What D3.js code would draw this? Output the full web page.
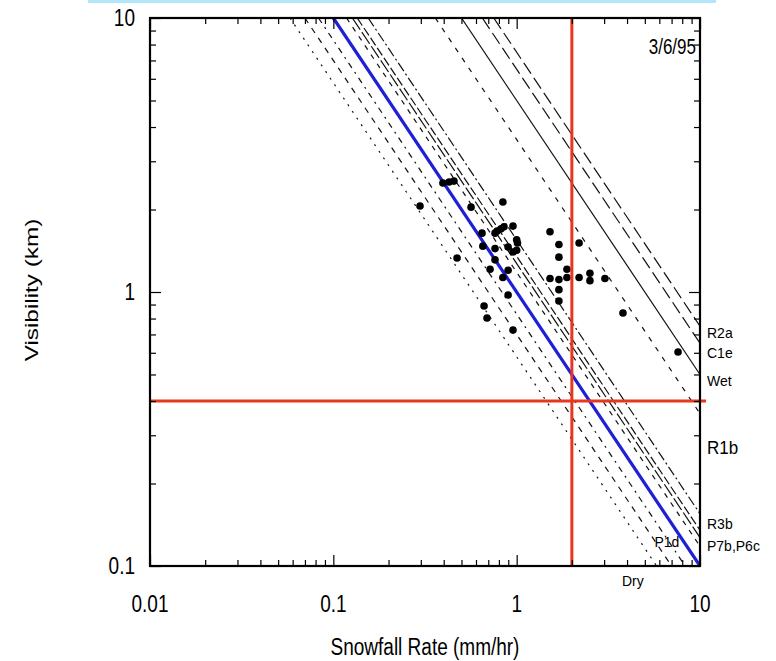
<!DOCTYPE html>
<html><head><meta charset="utf-8">
<script src="https://cdn.jsdelivr.net/npm/d3@7"></script>
<style>
body{margin:0;background:#fff}
svg{display:block}
text{font-family:"Liberation Sans",Arial,Helvetica,sans-serif;fill:#000}
</style>
</head><body>
<svg id="chart" width="776" height="661"></svg>
<script>
// ---- data ----
const snowfallRate = [0.396,0.428,0.455,0.297,0.564,0.841,0.762,0.782,0.822,0.853,0.955,0.647,0.654,0.762,0.898,1.00,1.01,1.00,0.955,0.473,0.762,0.716,0.898,0.841,0.898,0.664,0.689,0.955,1.52,1.70,1.70,2.19,1.88,1.52,1.70,1.88,2.19,2.51,2.51,3.03,1.70,1.70,3.80,7.59];
const visibility   = [2.50,2.52,2.54,2.06,2.04,2.13,1.64,1.67,1.70,1.73,1.74,1.64,1.47,1.44,1.46,1.55,1.51,1.42,1.40,1.33,1.31,1.21,1.20,1.13,0.975,0.889,0.804,0.726,1.66,1.49,1.34,1.51,1.21,1.12,1.11,1.13,1.13,1.17,1.10,1.12,1.02,0.927,0.838,0.604];
// relations Visibility = coef / SnowfallRate
const relationNames = ["R2a","C1e","Wet","R1b","R3b","P7b","P6c","Pb","Fit","P1d","Pd","Dry"];
const relationCoef  = [7.5, 6.5, 5.0, 3.6, 1.55, 1.35, 1.27, 1.18, 1.0, 0.83, 0.70, 0.58];
const relationLabels = ["R2a","C1e","Wet","R1b","R3b","P7b,P6c"];
const relationLabelVis = [0.71,0.60,0.473,0.27,0.142,0.118];
const xTickLabels = [0.01, 0.1, 1, 10];
const yTickLabels = [0.1, 1, 10];
const thresholdRate = 2.0;
const thresholdVis = 0.4;
const dateLabel = "3/6/95";

// ---- styles ----
const dashStyles = {
  "R2a":"13,5","C1e":"13,5","Wet":null,"R1b":"5,7",
  "R3b":"10,3,2,3","P7b":"9,3","P6c":"14,3","Pb":"5,6",
  "P1d":"6,5,2,5","Pd":"6,6","Dry":"2,6"
};

const svg = d3.select("#chart");
const L = 150, R = 700, T = 18, B = 566;
const x = d3.scaleLog().domain([0.01, 10]).range([L, R]);
const y = d3.scaleLog().domain([0.1, 10]).range([B, T]);

// decorative band at top (from the source scan)
svg.append("rect").attr("x",88).attr("y",0).attr("width",628).attr("height",3).attr("fill","#b2e6f8");

svg.append("clipPath").attr("id","plot").append("rect")
  .attr("x",L).attr("y",T).attr("width",R-L).attr("height",B-T);

const g = svg.append("g").attr("clip-path","url(#plot)");
const line = d3.line().x(d => x(d[0])).y(d => y(d[1]));

relationNames.forEach((name, i) => {
  const k = relationCoef[i];
  const s0 = Math.max(0.01, k / 10), s1 = Math.min(10, k / 0.1);
  const pts = [[s0, k / s0], [s1, k / s1]];
  const isFit = name === "Fit";
  g.append("path").attr("d", line(pts))
    .attr("fill","none")
    .attr("stroke", isFit ? "#1f1fd6" : "#111")
    .attr("stroke-width", isFit ? 3.2 : 1.2)
    .attr("stroke-dasharray", isFit ? null : dashStyles[name]);
});

// points
g.selectAll("circle.pt").data(snowfallRate).join("circle")
  .attr("class","pt")
  .attr("cx", d => x(d))
  .attr("cy", (d,i) => y(visibility[i]))
  .attr("r", 3.8).attr("fill","#000");

// threshold lines
svg.append("line").attr("x1",x(0.01)).attr("x2",x(10)+6)
  .attr("y1",y(thresholdVis)).attr("y2",y(thresholdVis))
  .attr("stroke","#e8361f").attr("stroke-width",3);
svg.append("line").attr("x1",x(thresholdRate)).attr("x2",x(thresholdRate))
  .attr("y1",y(10)).attr("y2",y(0.1))
  .attr("stroke","#e8361f").attr("stroke-width",3);

// ticks (inward on all sides)
const xMinor = [], yMinor = [];
[0.01,0.1,1].forEach(d => { for (let m=2;m<=9;m++) xMinor.push(d*m); });
[0.1,1].forEach(d => { for (let m=2;m<=9;m++) yMinor.push(d*m); });
function ticks(axisGen, vals, size, tr) {
  svg.append("g").attr("transform", tr)
    .call(axisGen.tickValues(vals).tickSize(size).tickFormat(""))
    .call(s => s.select(".domain").remove())
    .selectAll("line").attr("stroke","#000").attr("stroke-width",1.2);
}
ticks(d3.axisBottom(x), xMinor, -6, `translate(0,${B})`);
ticks(d3.axisBottom(x), xTickLabels, -11, `translate(0,${B})`);
ticks(d3.axisTop(x), xMinor, -6, `translate(0,${T})`);
ticks(d3.axisTop(x), xTickLabels, -11, `translate(0,${T})`);
ticks(d3.axisLeft(y), yMinor, -6, `translate(${L},0)`);
ticks(d3.axisLeft(y), yTickLabels, -11, `translate(${L},0)`);
ticks(d3.axisRight(y), yMinor, -6, `translate(${R},0)`);
ticks(d3.axisRight(y), yTickLabels, -11, `translate(${R},0)`);

// frame
svg.append("rect").attr("x",L).attr("y",T).attr("width",R-L).attr("height",B-T)
  .attr("fill","none").attr("stroke","#000").attr("stroke-width",2.2);

// stretched text helper
function label(txt, cx, cy, size, anchor, sy, rot) {
  const t = svg.append("g").attr("transform", `translate(${cx},${cy}) scale(1,${sy})` + (rot ? ` rotate(${rot})` : ""));
  t.append("text").attr("text-anchor", anchor).attr("dominant-baseline","central")
    .style("font-size", size + "px").text(txt);
}
const fmt = v => String(v);
xTickLabels.forEach(v => label(fmt(v), x(v), 604, 19, "middle", 1.28));
yTickLabels.forEach(v => label(fmt(v), 135, y(v), 19, "end", 1.28));
label("Snowfall Rate (mm/hr)", 425, 647, 19, "middle", 1.28);
label("Visibility (km)", 31, 290, 19, "middle", 1.28, -90);
label(dateLabel, 696, 46, 17, "end", 1.28);

relationLabels.forEach((t, i) => label(t, 707, y(relationLabelVis[i]), t === "R1b" ? 17 : 14, "start", 1.08));
label("P1d", x(6.6), y(0.123), 14, "middle", 1.08);
label("Dry", x(4.3), 581, 14, "middle", 1.08);
</script>
</body></html>
